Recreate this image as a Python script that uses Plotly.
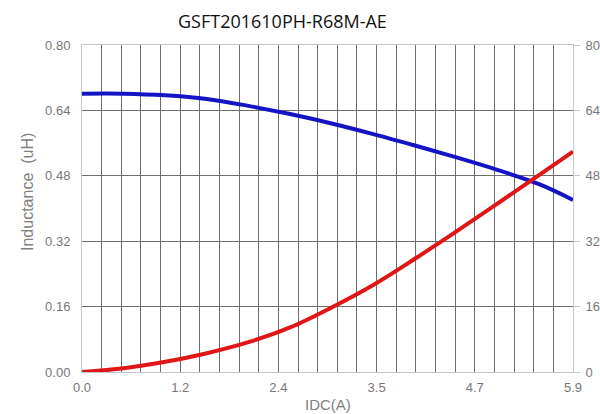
import plotly.graph_objects as go

# Data
current_a = [0.0, 0.5, 1.0, 1.5, 2.0, 2.5, 3.0, 3.5, 4.0, 4.5, 5.0, 5.5, 5.9]
inductance_uh = [0.681, 0.681, 0.677, 0.668, 0.651, 0.631, 0.608, 0.582, 0.554, 0.525, 0.494, 0.459, 0.421]
temp_rise = [0.0, 0.9, 2.5, 4.6, 7.3, 10.9, 15.8, 21.3, 27.7, 34.4, 41.3, 48.3, 53.9]

x_tick_vals = [0.0, 1.18, 2.36, 3.54, 4.72, 5.9]
x_tick_text = ["0.0", "1.2", "2.4", "3.5", "4.7", "5.9"]
y_tick_vals = [0.0, 0.16, 0.32, 0.48, 0.64, 0.80]
y2_tick_vals = [0, 16, 32, 48, 64, 80]

title_text = "GSFT201610PH-R68M-AE"
y_title = "Inductance  (uH)"
x_title = "IDC(A)"

tick_font = dict(family="Arial, Liberation Sans", size=13, color="#777777")
grid_col = "#6e6e6e"
border_col = "#c4c8cc"

fig = go.Figure()
fig.add_trace(go.Scatter(x=current_a, y=inductance_uh, mode="lines",
                         line=dict(color="#1414c4", width=4, shape="spline"),
                         showlegend=False))
fig.add_trace(go.Scatter(x=current_a, y=temp_rise, mode="lines", yaxis="y2",
                         line=dict(color="#e01616", width=4, shape="spline"),
                         showlegend=False))

fig.update_layout(
    width=600, height=414,
    margin=dict(l=82, r=27, t=45, b=42),
    paper_bgcolor="white", plot_bgcolor="white",
    xaxis=dict(range=[0, 5.9], tickvals=x_tick_vals, ticktext=x_tick_text,
               tickfont=tick_font, showgrid=True, gridcolor=grid_col, gridwidth=1,
               minor=dict(dtick=0.236, tick0=0, showgrid=True, gridcolor=grid_col, gridwidth=1),
               showline=True, linecolor=border_col, linewidth=1, mirror=True,
               zeroline=False, ticks="", ticklabelstandoff=3, automargin=False),
    yaxis=dict(range=[0, 0.8], tickvals=y_tick_vals, tickformat=".2f",
               tickfont=tick_font, showgrid=True, gridcolor=grid_col, gridwidth=1,
               showline=True, linecolor=border_col, linewidth=1, mirror=True,
               zeroline=False, ticks="", ticklabelstandoff=8, automargin=False),
    yaxis2=dict(range=[0, 80], tickvals=y2_tick_vals, overlaying="y", side="right",
                tickfont=tick_font, showgrid=False, zeroline=False,
                ticks="outside", ticklen=6, tickcolor=border_col, showline=False,
                ticklabelstandoff=3, automargin=False),
    annotations=[
        dict(text=title_text, x=282, y=21, showarrow=False,
             font=dict(family="Open Sans, Noto Sans", size=18, color="#111111")),
        dict(text=y_title, x=27, y=192, textangle=-90, showarrow=False,
             font=dict(family="Arial, Liberation Sans", size=16, color="#808080")),
        dict(text=x_title, x=328, y=404, showarrow=False,
             font=dict(family="Arial, Liberation Sans", size=15, color="#808080")),
    ],
)

# convert pixel positions for annotations to paper coordinates
pl, pr, pt, pb = 82, 573, 45, 372
for a in fig.layout.annotations:
    px, py = a.x, a.y
    a.x = (px - pl) / (pr - pl)
    a.y = (pb - py) / (pb - pt)
    a.xref = "paper"
    a.yref = "paper"
    a.xanchor = "center"
    a.yanchor = "middle"

fig.write_html("out.html")
